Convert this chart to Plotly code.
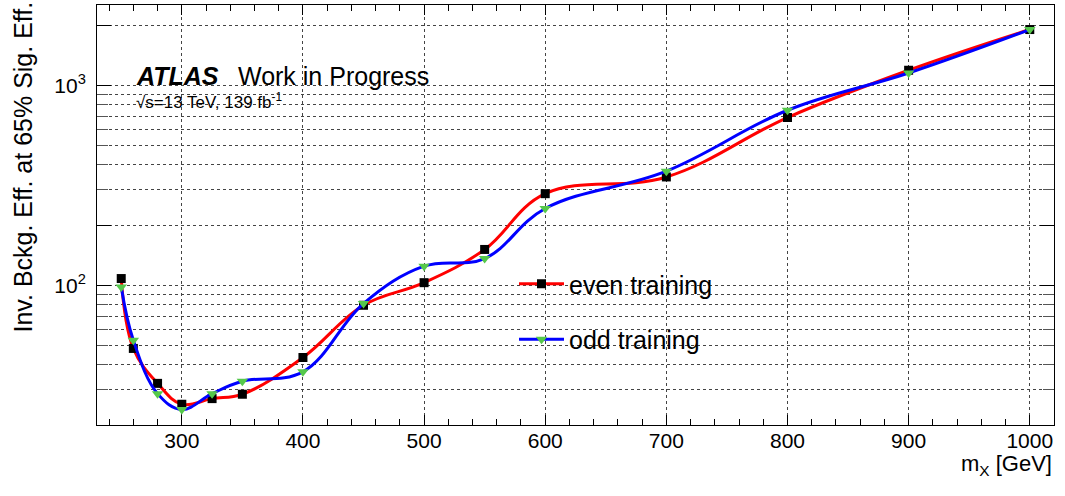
import plotly.graph_objects as go

# Signal mass points and background rejection for the two training folds
mass_gev = [250, 260, 280, 300, 325, 350, 400, 450, 500, 550, 600, 700, 800, 900, 1000]
even_training = [108, 48.3, 32.3, 25.4, 27.1, 28.5, 43.5, 79.4, 103, 151, 287, 348, 690, 1189, 1900]
odd_training = [98.1, 53.1, 28.7, 23.9, 28.7, 33.1, 36.9, 81.0, 124.5, 136, 242, 372, 750, 1152, 1900]

series_names = ["even training", "odd training"]

# Axis ticks
x_major = [300, 400, 500, 600, 700, 800, 900, 1000]
y_major = [100, 200, 1000, 2000]
y_major_text = ["10<sup>2</sup>", "", "10<sup>3</sup>", ""]
y_minor = [20, 30, 40, 50, 60, 70, 80, 90, 300, 400, 500, 600, 700, 800, 900]

FONT = "Liberation Sans, Arial, Helvetica, sans-serif"
W, H = 1065, 496
ML, MR, MT, MB = 97, 11, 5, 71
PW, PH = W - ML - MR, H - MT - MB


def px_x(p):
    return (p - ML) / PW


def px_y(p):
    return (H - MB - p) / PH


fig = go.Figure()

fig.add_trace(go.Scatter(
    x=mass_gev, y=even_training, name=series_names[0], legendgroup="even",
    mode="lines+markers",
    line=dict(color="#ff0000", width=3, shape="spline", smoothing=1.1),
    marker=dict(symbol="square", size=9, color="black"),
))
fig.add_trace(go.Scatter(
    x=mass_gev, y=odd_training, name=series_names[1], legendgroup="odd",
    mode="lines+markers",
    line=dict(color="#0000ff", width=3, shape="spline", smoothing=1.1),
    marker=dict(symbol="triangle-down", size=10, color="#55c84b"),
))

axis_common = dict(
    showline=True, linecolor="black", linewidth=1, mirror="ticks",
    ticks="inside", tickcolor="black", tickwidth=1,
    tickfont=dict(family=FONT, size=21, color="black"),
    showgrid=True, gridcolor="#444444", gridwidth=1, griddash="dot",
    zeroline=False,
)

fig.update_xaxes(
    range=[230, 1020], tickmode="array", tickvals=x_major, ticklen=10,
    ticklabelstandoff=-3,
    minor=dict(tickmode="linear", tick0=0, dtick=20, ticklen=6, ticks="inside",
               tickcolor="black", showgrid=False),
    **axis_common,
)
fig.update_yaxes(
    type="log", range=[1.30103, 3.4015], tickmode="array",
    tickvals=y_major, ticktext=y_major_text, ticklen=14,
    ticklabelstandoff=6,
    minor=dict(tickmode="array", tickvals=y_minor, ticklen=11, ticks="inside",
               tickcolor="#555555", showgrid=True, gridcolor="#444444",
               griddash="dot", gridwidth=1),
    **axis_common,
)

annotations = [
    dict(text="<b><i>ATLAS</i></b>", x=px_x(134), y=px_y(76), xanchor="left", yanchor="middle",
         font=dict(family=FONT, size=25, color="black")),
    dict(text="Work in Progress", x=px_x(236), y=px_y(76), xanchor="left", yanchor="middle",
         font=dict(family=FONT, size=25, color="black")),
    dict(text="\u221as=13 TeV, 139 fb<sup>-1</sup>", x=px_x(134), y=px_y(101),
         xanchor="left", yanchor="middle",
         font=dict(family=FONT, size=17, color="black")),
    dict(text="m<sub>X</sub> [GeV]", x=px_x(1054), y=px_y(465), xanchor="right", yanchor="middle",
         font=dict(family=FONT, size=22, color="black")),
    dict(text="Inv. Bckg. Eff. at 65% Sig. Eff.", x=px_x(22), y=px_y(0), textangle=-90,
         xanchor="center", yanchor="top",
         font=dict(family=FONT, size=25, color="black")),
]
for a in annotations:
    a.update(xref="paper", yref="paper", showarrow=False)

fig.update_layout(
    width=W, height=H,
    margin=dict(l=ML, r=MR, t=MT, b=MB, pad=0),
    paper_bgcolor="white", plot_bgcolor="white",
    font=dict(family=FONT, color="black"),
    annotations=annotations,
    showlegend=True,
    legend=dict(
        x=px_x(514), y=px_y(261), xanchor="left", yanchor="top",
        bgcolor="rgba(255,255,255,0)", borderwidth=0,
        font=dict(family=FONT, size=25, color="black"),
        tracegroupgap=20, itemwidth=45,
    ),
)

fig.write_html("out.html")
